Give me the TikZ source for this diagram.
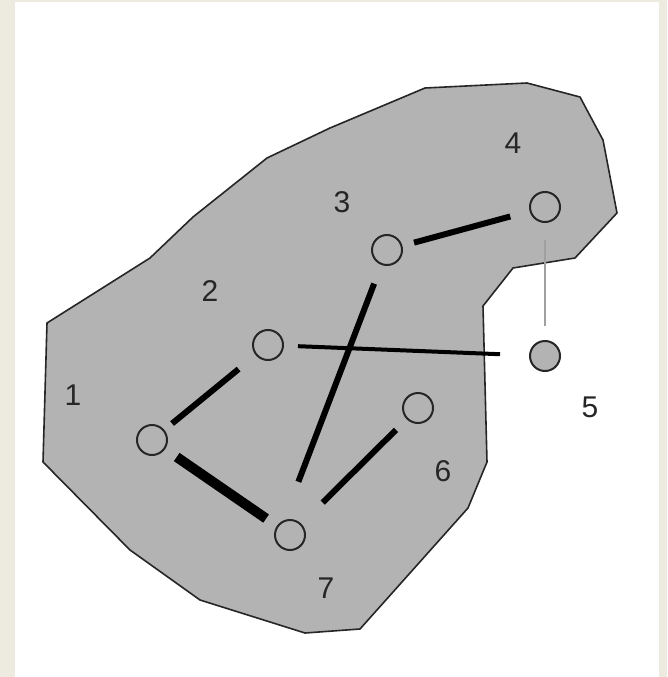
\documentclass[tikz,border=0pt]{standalone}
\usepackage{fontspec}
\setmainfont{Liberation Sans}
\definecolor{beige}{HTML}{EDEBE0}
\definecolor{regiongray}{HTML}{B3B3B3}
\definecolor{thingray}{HTML}{A0A0A0}
\begin{document}
\begin{tikzpicture}[x=1pt,y=-1pt,
  vert/.style={circle,draw=black!85,line width=2pt,minimum size=30pt,inner sep=0pt},
  lab/.style={font=\fontsize{30}{30}\selectfont,text=black!85,inner sep=0pt},
  edge/.style={line width=6pt,black},
  line cap=butt]
\useasboundingbox (0,0) rectangle (667,677);
\fill[beige] (0,0) rectangle (667,677);
\fill[white] (15,2) rectangle (659,677);
% region
\draw[fill=regiongray,draw=black!85,line width=1.6pt,line join=round]
  (47,323) -- (150,258) -- (193,217) -- (267,158) -- (330,128) -- (425,88)
  -- (527,83) -- (580,97) -- (603,140) -- (617,213) -- (575,258) -- (513,268)
  -- (483,306) -- (487,462) -- (468,508) -- (360,629) -- (305,633)
  -- (200,600) -- (130,550) -- (43,462) -- cycle;
% vertices
\node[vert] (v4) at (545,207) {};
\node[vert] (v3) at (387,250) {};
\node[vert] (v2) at (268,345) {};
\node[vert,fill=regiongray] (v5) at (545,356) {};
\node[vert] (v6) at (418,408) {};
\node[vert] (v1) at (152,440) {};
\node[vert] (v7) at (290,535) {};
% edges
\draw[edge,shorten <=12pt,shorten >=20pt] (v3) -- (v4);
\draw[thingray,line width=1.5pt,shorten <=17pt,shorten >=14pt] (v4) -- (v5);
\draw[line width=4pt,shorten <=14pt,shorten >=29pt] (v2) -- (v5);
\draw[edge,shorten <=36pt,shorten >=57pt] (v3.center) -- ([xshift=-12pt]v7.center);
\draw[edge,shorten <=22pt,shorten >=10pt] (v2) -- (v1);
\draw[line width=10pt,shorten <=14pt,shorten >=13pt] (v1) -- (v7);
\draw[edge,shorten <=15pt,shorten >=30pt] (v6) -- (v7);
% labels
\node[lab] (l1) at (73,395) {1};
\node[lab] (l2) at (210,291) {2};
\node[lab] (l3) at (342,202) {3};
\node[lab] (l4) at (513,143) {4};
\node[lab] (l5) at (590,407) {5};
\node[lab] (l6) at (443,471) {6};
\node[lab] (l7) at (326,588) {7};
\end{tikzpicture}
\end{document}
